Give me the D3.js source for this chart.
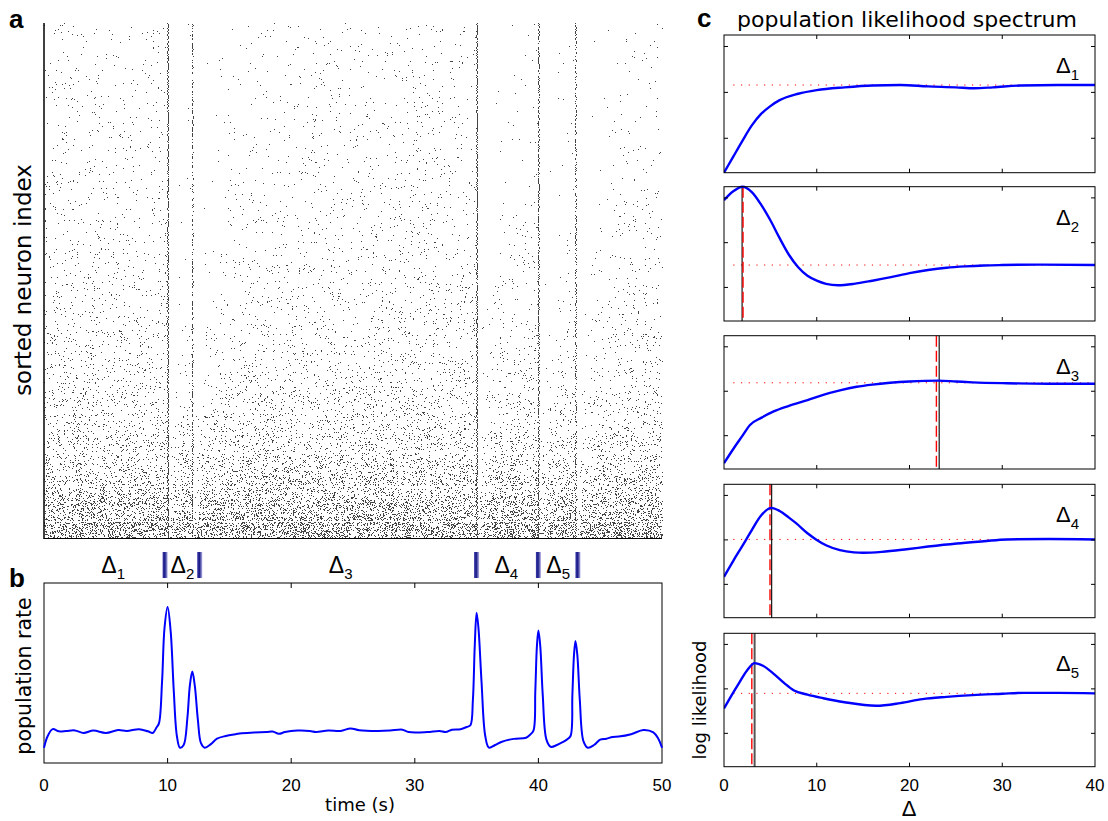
<!DOCTYPE html>
<html><head><meta charset="utf-8">
<script src="https://cdn.jsdelivr.net/npm/d3@7"></script>
<style>
body{margin:0;background:#fff}
svg{display:block}
text{font-family:"Liberation Sans",Arial,Helvetica,sans-serif;fill:#000}
.lab{font-family:"DejaVu Sans",Verdana,sans-serif}
</style>
</head><body>
<svg id="fig" width="1108" height="821"></svg>
<script>
// ---------------- DATA ----------------
// panel a: raster description
const burstTimes = [10, 12, 35, 40, 43];
const burstParticipation = [0.97, 0.55, 0.97, 0.8, 0.62];
const nNeurons = 500;
// firing rate (Hz) per band of 20 sorted neurons, top -> bottom
const bandRates = [0.18,0.18,0.18,0.19,0.19,0.2,0.21,0.22,0.23,0.25,0.27,0.29,0.32,0.35,0.39,0.44,0.5,0.58,0.7,0.85,1.05,1.35,1.8,2.6,3.8];
// post-burst silence (s) and recovery time constant (s) per band, top -> bottom
const bandDelay = [0.9,0.88,0.85,0.82,0.8,0.76,0.72,0.68,0.64,0.6,0.55,0.5,0.45,0.4,0.36,0.32,0.28,0.24,0.2,0.17,0.14,0.11,0.08,0.06,0.04];
const bandTau   = [6,6,5.8,5.6,5.4,5.2,5,4.7,4.4,4.1,3.8,3.5,3.2,2.9,2.6,2.3,2,1.7,1.4,1.2,1,0.8,0.6,0.5,0.4];

// segment markers between panels a and b
const segMarkers = [9.8, 12.6, 35, 40, 43.2];
const segLabelTimes = [5.6, 11.2, 24.0, 37.4, 41.6];
const segLabels = ["1","2","3","4","5"];

// panel b: population rate
const rateT = [0,0.3,0.7,1.2,1.8,2.5,3.2,4,5,6,6.7,7.7,8.4,8.8,9.1,9.3,9.55,9.75,10,10.25,10.5,10.75,11,11.3,11.6,11.8,12,12.2,12.45,12.7,13,13.5,14,14.7,15.5,16,17,18,18.5,19,19.5,20.5,21.5,22,23,24,24.8,25.5,27,28,29,29.5,31,32,32.5,33,33.7,34.2,34.5,34.7,34.85,35,35.15,35.4,35.7,36,36.5,37,38,39,39.3,39.6,39.75,39.88,40,40.15,40.35,40.65,41,41.5,42,42.3,42.6,42.75,42.88,43,43.15,43.35,43.65,44,44.5,45,45.5,46,46.5,47.5,48.5,49.3,49.7,50];
const rateV = [0.85,1.5,1.88,1.76,1.78,1.81,1.67,1.8,1.67,1.83,1.78,1.88,1.76,1.67,1.97,2.2,4.5,7.5,8.67,7.3,4.0,1.5,0.85,1.0,2.5,4.3,5.08,4.3,2.4,1.1,0.85,1.05,1.35,1.5,1.6,1.65,1.7,1.72,1.75,1.62,1.72,1.8,1.78,1.72,1.8,1.78,1.92,1.82,1.78,1.8,1.85,1.72,1.72,1.78,1.72,1.85,1.88,2.0,2.1,3.5,6.5,8.35,7.5,4.5,1.5,0.85,1.0,1.17,1.34,1.4,1.55,1.8,4.0,6.5,7.36,6.5,3.8,1.3,0.9,1.0,1.17,1.3,1.5,3.8,6.0,6.78,6.0,3.5,1.2,0.85,1.0,1.3,1.35,1.45,1.47,1.6,1.83,1.7,1.35,0.85];
const timeTicks = [0,10,20,30,40,50];

// panel c: likelihood spectra (log likelihood, arbitrary units)
const deltaTicks = [0,10,20,30,40];
const spec1D = [0,1,2,3,4,5,6,8,10,13,16,19,22,25,27,29,32,36,40];
const spec1V = [0,0.35,0.7,1.03,1.28,1.45,1.58,1.72,1.8,1.86,1.9,1.91,1.88,1.86,1.84,1.86,1.9,1.91,1.91];
const spec2D = [0,1,2,3,4,5,6,7,8,9,10,11,12.3,14,16,18,20,22,24,26,28,30,34,40];
const spec2V = [2.7,2.9,3.0,2.88,2.6,2.25,1.85,1.48,1.2,1.01,0.9,0.83,0.8,0.83,0.9,0.98,1.07,1.14,1.19,1.22,1.24,1.25,1.26,1.25];
const spec3D = [0,1,2,2.8,4,5.3,7,9,10.7,12.5,14.3,16,17.9,20,23.1,25,26.8,30.5,35,40];
const spec3V = [0.13,0.45,0.75,0.99,1.15,1.29,1.42,1.55,1.67,1.77,1.85,1.9,1.94,1.97,1.99,1.97,1.95,1.93,1.92,1.92];
const spec4D = [0,1,2,2.8,4,5.1,6,7,7.8,9,10,11,12.5,14,15,17,19.7,22,25.1,28,30.5,35,40];
const spec4V = [0.92,1.28,1.62,1.9,2.3,2.47,2.4,2.25,2.12,1.9,1.75,1.63,1.52,1.47,1.46,1.48,1.54,1.6,1.67,1.72,1.76,1.77,1.76];
const spec5D = [0,0.8,1.7,2.5,3.3,4.2,5.3,6.5,7.5,9,10.7,13,16.4,19,21.4,24,26.8,30,32.2,36,40];
const spec5V = [1.31,1.6,1.91,2.17,2.33,2.27,2.1,1.88,1.72,1.62,1.54,1.45,1.37,1.43,1.52,1.57,1.61,1.64,1.66,1.66,1.65];
const specBaseline = [1.91, 1.25, 1.94, 1.76, 1.65];
const specBest = [null, 1.95, 23.2, 5.14, 3.3];
const specTrue = [null, 2.05, 22.9, 4.96, 3.0];
const specYTicks = [0.75, 1.75, 2.75];

// ---------------- DRAWING ----------------
const svg = d3.select("#fig");
const blue = "#0000ff";
const defs = svg.append("defs");

// shared time scale
const xT = d3.scaleLinear().domain([0, 50]).range([44, 662]);

// ===== panel a: raster =====
const yN = d3.scaleLinear().domain([0, nNeurons]).range([23, 538]);
// deterministic generator used only for placing the spike texture
function mulberry32(a){return function(){a|=0;a=a+0x6D2B79F5|0;let t=Math.imul(a^a>>>15,1|a);t=t+Math.imul(t^t>>>7,61|t)^t;return((t^t>>>14)>>>0)/4294967296;};}
const rng = mulberry32(20240611);
const spikes = [];
const dt = 0.02;
const bandSize = nNeurons / bandRates.length;
for (let r = 0; r < nNeurons; r++) {
  const b = Math.floor(r / bandSize);
  const rate = bandRates[b], del = bandDelay[b], tau = bandTau[b];
  for (let i = 0; i < 50 / dt; i++) {
    const t = i * dt;
    let lb = null;
    for (const bt of burstTimes) if (bt <= t) lb = bt;
    let m = 1;
    if (lb !== null) { const d = t - lb; m = d < del ? 0 : 1 - Math.exp(-(d - del) / tau); }
    if (rng() < rate * m * dt) spikes.push({t: t + rng() * dt, n: r});
  }
  burstTimes.forEach((bt, k) => {
    if (rng() < burstParticipation[k]) spikes.push({t: bt + (rng() - 0.5) * 0.05, n: r});
  });
}
const gA = svg.append("g");
gA.selectAll("rect.sp").data(spikes).join("rect").attr("class","sp")
  .attr("x", d => Math.round(xT(d.t)))
  .attr("y", d => Math.round(yN(d.n)))
  .attr("width", 1).attr("height", 1)
  .attr("fill", "#444");
gA.append("line").attr("x1", 44).attr("x2", 44).attr("y1", 23).attr("y2", 539).attr("stroke","#000").attr("stroke-width",1.5);
gA.append("line").attr("x1", 44).attr("x2", 662).attr("y1", 538.5).attr("y2", 538.5).attr("stroke","#000").attr("stroke-width",1);
svg.append("text").attr("class","lab").attr("transform","translate(31,280) rotate(-90)").attr("text-anchor","middle").attr("font-size",23).text("sorted neuron index");
svg.append("text").attr("x",9).attr("y",28).attr("font-size",26).attr("font-weight","bold").text("a");

// ===== segment markers =====
const grad = defs.append("linearGradient").attr("id","barGrad").attr("x1","0").attr("x2","1").attr("y1","0").attr("y2","0");
grad.append("stop").attr("offset","0%").attr("stop-color","#3a3aa8");
grad.append("stop").attr("offset","45%").attr("stop-color","#1c1c88");
grad.append("stop").attr("offset","100%").attr("stop-color","#b4b4e6");
svg.selectAll("rect.seg").data(segMarkers).join("rect").attr("class","seg")
  .attr("x", d => xT(d) - 2.5).attr("y", 552).attr("width", 5).attr("height", 26)
  .attr("fill", "url(#barGrad)");
const segT = svg.selectAll("text.segl").data(segLabels).join("text").attr("class","segl")
  .attr("x", (d,i) => xT(segLabelTimes[i])).attr("y", 573).attr("text-anchor","middle").attr("font-size",23);
segT.append("tspan").text("Δ");
segT.append("tspan").attr("font-size",15).attr("dy",6).text(d => d);

// ===== panel b: population rate =====
const bTop = 583, bBot = 763;
const yR = d3.scaleLinear().domain([0, 10]).range([bBot, bTop]);
const gB = svg.append("g");
gB.append("rect").attr("x",44).attr("y",bTop).attr("width",618).attr("height",bBot-bTop).attr("fill","none").attr("stroke","#000").attr("stroke-width",1);
const innerT = timeTicks.filter(t => t > 0 && t < 50);
gB.selectAll("line.tb").data(innerT).join("line").attr("class","tb")
  .attr("x1", d => xT(d)).attr("x2", d => xT(d)).attr("y1", bBot).attr("y2", bBot - 5).attr("stroke","#000");
gB.selectAll("line.tt").data(innerT).join("line").attr("class","tt")
  .attr("x1", d => xT(d)).attr("x2", d => xT(d)).attr("y1", bTop).attr("y2", bTop + 5).attr("stroke","#000");
gB.selectAll("text.tl").data(timeTicks).join("text").attr("class","tl")
  .attr("x", d => xT(d)).attr("y", 791).attr("text-anchor","middle").attr("font-size",17).text(d => d);
const rateData = rateT.map((t,i) => [t, rateV[i]]);
gB.append("path").datum(rateData)
  .attr("d", d3.line().x(d => xT(d[0])).y(d => yR(d[1])).curve(d3.curveCatmullRom.alpha(0.5)))
  .attr("fill","none").attr("stroke",blue).attr("stroke-width",2);
svg.append("text").attr("class","lab").attr("x",360).attr("y",811).attr("text-anchor","middle").attr("font-size",18).text("time (s)");
svg.append("text").attr("class","lab").attr("transform","translate(31,676) rotate(-90)").attr("text-anchor","middle").attr("font-size",20.5).text("population rate");
svg.append("text").attr("x",9).attr("y",587).attr("font-size",26).attr("font-weight","bold").text("b");

// ===== panel c: likelihood spectra =====
const xD = d3.scaleLinear().domain([0, 40]).range([724, 1095]);
const boxes = [[35,172.7],[186.7,321],[335.7,469],[484.3,617.7],[633.3,766.7]];
const specD = [spec1D, spec2D, spec3D, spec4D, spec5D];
const specV = [spec1V, spec2V, spec3V, spec4V, spec5V];
boxes.forEach(([top, bot], k) => {
  const g = svg.append("g");
  const y = d3.scaleLinear().domain([0, 3]).range([bot, top]);
  const clipId = "clip" + k;
  defs.append("clipPath").attr("id", clipId).append("rect").attr("x", 724).attr("y", top - 2).attr("width", 371).attr("height", bot - top + 4);
  // baseline (dotted)
  g.append("line").attr("x1", xD(1)).attr("x2", xD(40)).attr("y1", y(specBaseline[k])).attr("y2", y(specBaseline[k]))
    .attr("stroke", "#ff0000").attr("stroke-width", 1).attr("stroke-dasharray", "1.2,6.5");
  // best (solid) / true (dashed) delta
  if (specBest[k] !== null) {
    g.append("line").attr("x1", xD(specBest[k])).attr("x2", xD(specBest[k])).attr("y1", top).attr("y2", bot)
      .attr("stroke", k === 4 ? "#555" : "#000").attr("stroke-width", k === 4 ? 2 : 1.1);
  }
  if (specTrue[k] !== null) {
    g.append("line").attr("x1", xD(specTrue[k])).attr("x2", xD(specTrue[k])).attr("y1", top).attr("y2", bot)
      .attr("stroke", "#ff0000").attr("stroke-width", 1.4).attr("stroke-dasharray", "11,4");
  }
  const dat = specD[k].map((d,i) => [d, specV[k][i]]);
  g.append("path").datum(dat).attr("clip-path", `url(#${clipId})`)
    .attr("d", d3.line().x(d => xD(d[0])).y(d => y(d[1])).curve(d3.curveMonotoneX))
    .attr("fill","none").attr("stroke",blue).attr("stroke-width",2.4);
  g.append("rect").attr("x",724).attr("y",top).attr("width",371).attr("height",bot-top).attr("fill","none").attr("stroke","#000").attr("stroke-width",1);
  const inner = deltaTicks.filter(t => t > 0 && t < 40);
  inner.forEach(t => {
    g.append("line").attr("x1", xD(t)).attr("x2", xD(t)).attr("y1", bot).attr("y2", bot - 4).attr("stroke","#000");
    g.append("line").attr("x1", xD(t)).attr("x2", xD(t)).attr("y1", top).attr("y2", top + 4).attr("stroke","#000");
  });
  specYTicks.forEach(v => {
    g.append("line").attr("x1", 724).attr("x2", 728).attr("y1", y(v)).attr("y2", y(v)).attr("stroke","#000");
    g.append("line").attr("x1", 1095).attr("x2", 1091).attr("y1", y(v)).attr("y2", y(v)).attr("stroke","#000");
  });
  const lab = g.append("text").attr("x", 1056).attr("y", top + 38).attr("font-size", 22);
  lab.append("tspan").text("Δ");
  lab.append("tspan").attr("font-size", 15).attr("dy", 7).text(k + 1);
  if (k === 4) {
    g.selectAll("text.dl").data(deltaTicks).join("text").attr("class","dl")
      .attr("x", d => xD(d)).attr("y", 791).attr("text-anchor","middle").attr("font-size",17).text(d => d);
  }
});
svg.append("text").attr("x", 909).attr("y", 816).attr("text-anchor","middle").attr("font-size",22).text("Δ");
svg.append("text").attr("class","lab").attr("transform","translate(706,700) rotate(-90)").attr("text-anchor","middle").attr("font-size",18).text("log likelihood");
svg.append("text").attr("class","lab").attr("x", 907).attr("y", 27).attr("text-anchor","middle").attr("font-size",22).text("population likelihood spectrum");
svg.append("text").attr("x", 697).attr("y", 27).attr("font-size",26).attr("font-weight","bold").text("c");
</script>
</body></html>
